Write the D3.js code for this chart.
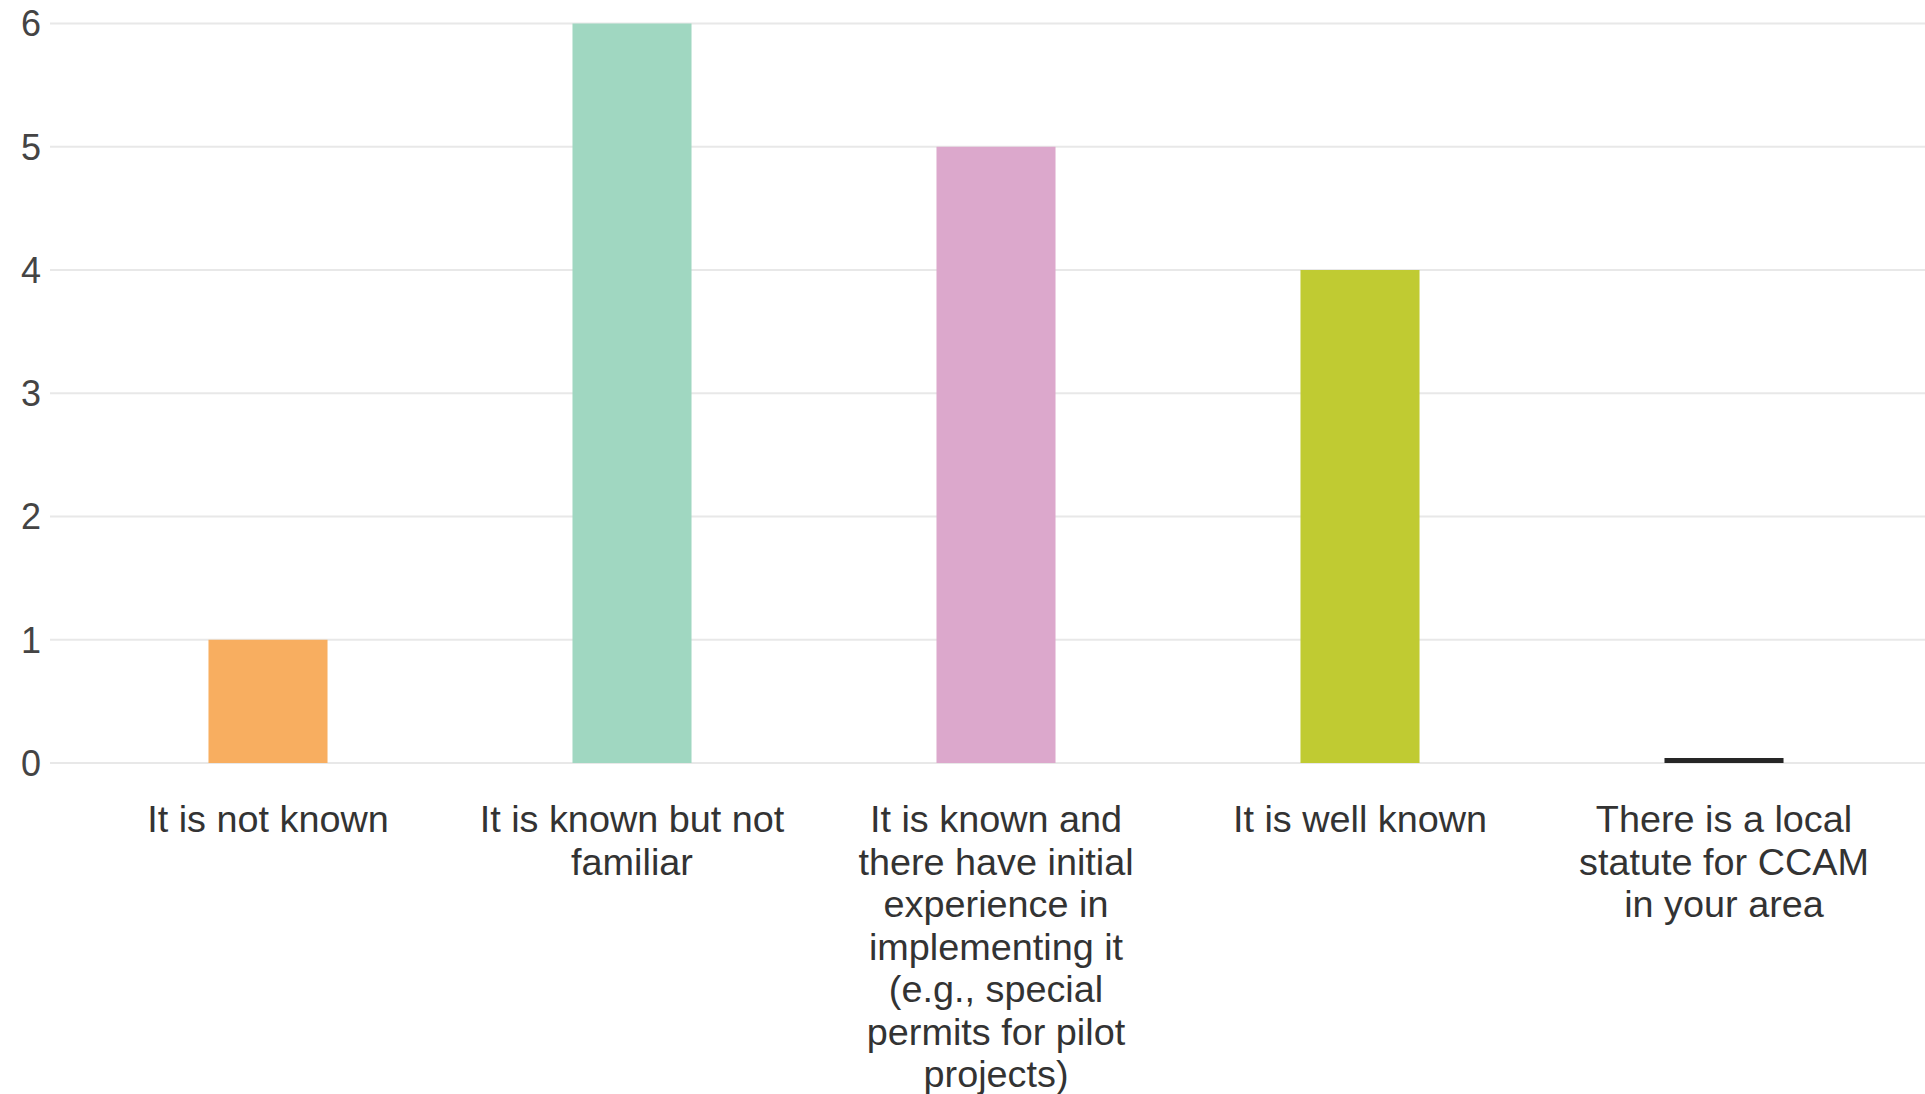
<!DOCTYPE html>
<html>
<head>
<meta charset="utf-8">
<script src="https://cdn.jsdelivr.net/npm/d3@7/dist/d3.min.js"></script>
<style>
  html, body { margin: 0; padding: 0; background: #ffffff; }
  svg { display: block; }
  text { font-family: "Liberation Sans", Arial, sans-serif; }
</style>
</head>
<body>
<svg id="chart" width="1925" height="1094"></svg>
<script>
// Survey answers: awareness of CCAM regulation
const categories = [
  "It is not known",
  "It is known but not familiar",
  "It is known and there have initial experience in implementing it (e.g., special permits for pilot projects)",
  "It is well known",
  "There is a local statute for CCAM in your area"
];
const counts = [1, 6, 5, 4, 0];
const barColors = ["#f8ae60", "#a0d7c1", "#dca8cc", "#c0cb32", "#262626"];
const yTicks = [0, 1, 2, 3, 4, 5, 6];

const width = 1925, height = 1094;
const plot = { left: 86, right: 1906, top: 23.5, bottom: 763 };

const svg = d3.select("#chart");

const x = d3.scaleBand()
  .domain(categories)
  .range([plot.left, plot.right])
  .paddingInner(0.673)
  .paddingOuter(0.3365);

const y = d3.scaleLinear()
  .domain([0, 6])
  .range([plot.bottom, plot.top]);

// Horizontal gridlines with value labels on the left
const grid = svg.append("g");
grid.selectAll("line")
  .data(yTicks)
  .join("line")
  .attr("x1", 50)
  .attr("x2", width)
  .attr("y1", d => y(d))
  .attr("y2", d => y(d))
  .attr("stroke", "#e8e8e8")
  .attr("stroke-width", 2);

grid.selectAll("text")
  .data(yTicks)
  .join("text")
  .attr("x", 41)
  .attr("y", d => y(d))
  .attr("dy", "0.36em")
  .attr("text-anchor", "end")
  .attr("font-size", 36)
  .attr("fill", "#444")
  .text(d => d);

// Bars; a zero count is shown as a thin dark stroke on the baseline
const bars = categories.map((c, i) => ({ cat: c, value: counts[i], color: barColors[i] }));
svg.append("g")
  .selectAll("rect")
  .data(bars)
  .join("rect")
  .attr("x", d => x(d.cat))
  .attr("width", x.bandwidth())
  .attr("y", d => d.value > 0 ? y(d.value) : y(0) - 5)
  .attr("height", d => d.value > 0 ? y(0) - y(d.value) : 5)
  .attr("fill", d => d.color);

// Category labels, wrapped and centred under each bar
const wrapWidth = 326;
const lineHeight = 42.5;
const labels = svg.append("g");
categories.forEach(c => {
  const cx = x(c) + x.bandwidth() / 2;
  const t = labels.append("text")
    .attr("x", cx)
    .attr("y", 832)
    .attr("text-anchor", "middle")
    .attr("font-size", 37.8)
    .attr("fill", "#333");
  const words = c.split(" ");
  let line = [];
  let tspan = t.append("tspan").attr("x", cx).attr("dy", 0);
  words.forEach(w => {
    line.push(w);
    tspan.text(line.join(" "));
    if (tspan.node().getComputedTextLength() > wrapWidth && line.length > 1) {
      line.pop();
      tspan.text(line.join(" "));
      line = [w];
      tspan = t.append("tspan")
        .attr("x", cx)
        .attr("dy", lineHeight)
        .text(w);
    }
  });
});
</script>
</body>
</html>
